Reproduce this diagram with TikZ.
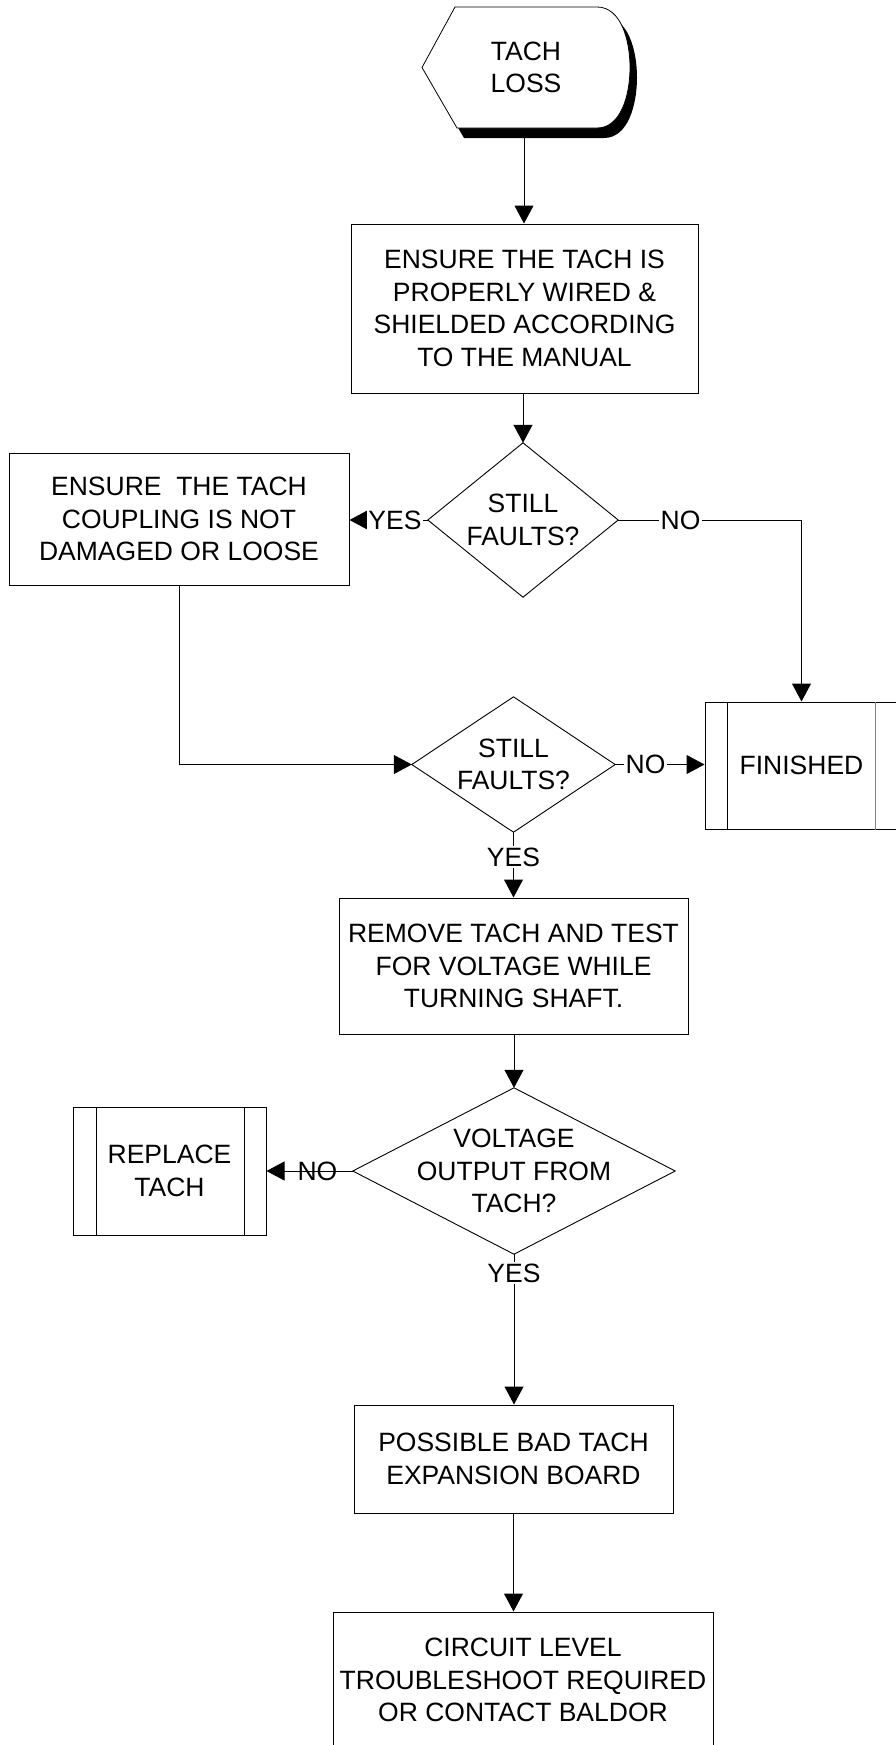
\documentclass[tikz,border=0pt]{standalone}
\usepackage{fontspec}
\setmainfont{Liberation Sans}
\usetikzlibrary{arrows.meta}
\begin{document}
\begin{tikzpicture}[x=1pt,y=-1pt,
  every node/.style={font=\fontsize{26.5}{32.5}\selectfont, align=center, inner sep=0pt},
  proc/.style={draw, line width=1pt, rectangle},
  holder/.style={rectangle},
  dec/.style={draw, line width=0.9pt, line join=miter},
  arr/.style={draw, line width=1pt, -{Triangle[length=18pt,width=19pt]}},
  conn/.style={draw, line width=1pt},
  lbl/.style={fill=white, inner sep=1.5pt},
  lblclear/.style={inner sep=1.5pt}]
\clip (0,0) rectangle (896,1745);
\fill[white] (0,0) rectangle (896,1745);

% start (display shape with shadow)
\begin{scope}[shift={(7,10)}]
\fill[black] (422,67.5) -- (455,7) -- (597,7) .. controls (621,7) and (630,40) .. (630,67.5)
  .. controls (630,95) and (621,128) .. (597,128) -- (457,128) -- cycle;
\end{scope}
\filldraw[fill=white, draw=black, line width=0.8pt] (422,67.5) -- (455,7) -- (597,7) .. controls (621,7) and (630,40) .. (630,67.5)
  .. controls (630,95) and (621,128) .. (597,128) -- (457,128) -- cycle;
\node[holder, minimum width=208pt, minimum height=121pt] (start) at (526,67.5) {TACH\\LOSS};
\coordinate (startbot) at (524,138);

% process boxes
\node[proc, minimum width=347pt, minimum height=169pt] (box1) at (524.5,308.5)
  {ENSURE THE TACH IS\\PROPERLY WIRED \&\\SHIELDED ACCORDING\\TO THE MANUAL};
\node[proc, minimum width=340pt, minimum height=132pt] (box2) at (179,519)
  {ENSURE\ \ THE TACH\\COUPLING IS NOT\\DAMAGED OR LOOSE};
\node[proc, minimum width=349pt, minimum height=136pt] (box3) at (513.5,966)
  {REMOVE TACH AND TEST\\FOR VOLTAGE WHILE\\TURNING SHAFT.};
\node[proc, minimum width=319pt, minimum height=108pt] (box4) at (513.5,1459)
  {POSSIBLE BAD TACH\\EXPANSION BOARD};
\node[proc, minimum width=380pt, minimum height=136pt] (box5) at (523,1680)
  {CIRCUIT LEVEL\\TROUBLESHOOT REQUIRED\\OR CONTACT BALDOR};

% predefined process boxes
\node[proc, minimum width=193pt, minimum height=127pt] (fin) at (801.5,765.5) {FINISHED};
\draw[line width=1pt] ([xshift=23pt]fin.north west) -- ([xshift=23pt]fin.south west);
\draw[line width=1pt, gray] ([xshift=-23pt]fin.north east) -- ([xshift=-23pt]fin.south east);
\node[proc, minimum width=193pt, minimum height=128pt] (rep) at (169.5,1171) {REPLACE\\TACH};
\draw[line width=1pt] ([xshift=24pt]rep.north west) -- ([xshift=24pt]rep.south west);
\draw[line width=1pt] ([xshift=-22pt]rep.north east) -- ([xshift=-22pt]rep.south east);

% decisions
\node[holder, minimum width=190pt, minimum height=154pt] (d1) at (523,520) {STILL\\FAULTS?};
\draw[dec] (d1.north) -- (d1.east) -- (d1.south) -- (d1.west) -- cycle;
\node[holder, minimum width=203pt, minimum height=135pt] (d2) at (513.5,764.5) {STILL\\FAULTS?};
\draw[dec] (d2.north) -- (d2.east) -- (d2.south) -- (d2.west) -- cycle;
\node[holder, minimum width=322pt, minimum height=166pt] (d3) at (514,1171) {VOLTAGE\\OUTPUT FROM\\TACH?};
\draw[dec] (d3.north) -- (d3.east) -- (d3.south) -- (d3.west) -- cycle;

% connectors
\draw[arr] (startbot) -- (startbot |- box1.north);
\draw[arr] (box1.south -| d1.north) -- (d1.north);
\draw[arr] (d1.west) -- node[lbl, pos=0.42] {YES} (d1.west -| box2.east);
\draw[arr] (d1.east) -- node[lbl, pos=0.34] {NO} (d1.east -| fin.north) -- (fin.north);
\draw[arr] (box2.south) |- (d2.west);
\draw[arr] (d2.east) -- node[lbl, pos=0.34] {NO} (d2.east -| fin.west);
\draw[arr] (d2.south) -- node[lbl, pos=0.38] {YES} (d2.south |- box3.north);
\draw[arr] (box3.south -| d3.north) -- (d3.north);
\draw[arr] (d3.west) -- node[lblclear, pos=0.41] {NO} (d3.west -| rep.east);
\draw[arr] (d3.south) -- node[lbl, pos=0.126] {YES} (d3.south |- box4.north);
\draw[arr] (box4.south) -- (box4.south |- box5.north);
\end{tikzpicture}
\end{document}
